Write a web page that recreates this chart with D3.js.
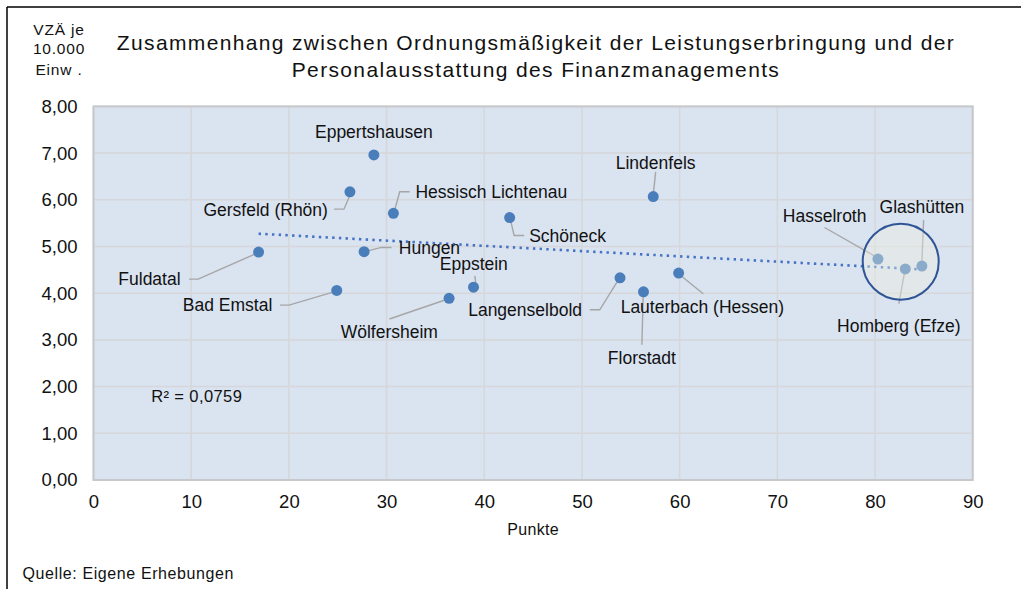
<!DOCTYPE html>
<html><head><meta charset="utf-8">
<script src="https://cdn.jsdelivr.net/npm/d3@7"></script>
<style>
html,body{margin:0;padding:0;background:#fff;}
svg{display:block;font-family:"Liberation Sans",Arial,sans-serif;}
</style></head>
<body>
<svg id="chart" width="1021" height="589"></svg>
<script>
// ---- data ----
const names = ["Eppertshausen","Gersfeld (Rhön)","Hessisch Lichtenau","Schöneck","Lindenfels","Fuldatal","Hungen","Bad Emstal","Wölfersheim","Eppstein","Langenselbold","Florstadt","Lauterbach (Hessen)","Hasselroth","Homberg (Efze)","Glashütten"];
const punkte = [28.7, 26.25, 30.7, 42.6, 57.3, 16.9, 27.7, 24.9, 36.4, 38.9, 53.9, 56.3, 59.9, 80.3, 83.1, 84.8];
const vza    = [6.96, 6.17, 5.71, 5.62, 6.07, 4.88, 4.89, 4.06, 3.89, 4.13, 4.33, 4.03, 4.43, 4.73, 4.52, 4.58];
const xTicks = [0,10,20,30,40,50,60,70,80,90];
const yTicks = [0,1,2,3,4,5,6,7,8];
const titleLines = ["Zusammenhang zwischen Ordnungsmäßigkeit der Leistungserbringung und der","Personalausstattung des Finanzmanagements"];
const yTitleLines = ["VZÄ je","10.000","Einw ."];
const xTitle = "Punkte";
const rSquaredText = "R² = 0,0759";
const sourceText = "Quelle: Eigene Erhebungen";
const highlightCenter = [82.63, 4.675];

// ---- layout (label placement relative to dot, in px) ----
const labelLayout = [
  {anchor:"middle", dx:0,     dy:-22.6, leader:[]},
  {anchor:"end",    dx:-22,   dy:18.3,  leader:[[-16,17.3],[-6,17.3],[0,3.3]]},
  {anchor:"start",  dx:22,    dy:-21.6, leader:[[16.3,-21.6],[6.3,-21.6],[1.3,-3.3]]},
  {anchor:"start",  dx:19.5,  dy:18.7,  leader:[[1,3],[4.5,18],[14.5,18]]},
  {anchor:"middle", dx:2.4,   dy:-34,   leader:[[2.4,-24.7],[0.2,-3.7]]},
  {anchor:"end",    dx:-78,   dy:27.3,  leader:[[-69.4,27],[-60.4,27],[-3.7,2]]},
  {anchor:"start",  dx:34.7,  dy:-3.4,  leader:[[3.7,-0.7],[17.4,-4.2],[27.4,-4.2]]},
  {anchor:"end",    dx:-64.4, dy:14.7,  leader:[[-56.7,14.7],[-47.7,14.7],[-3.7,1.7]]},
  {anchor:"middle", dx:-59.8, dy:33.4,  leader:[[-59.7,20.7],[-4,1.7]]},
  {anchor:"middle", dx:0.3,   dy:-23,   leader:[[1.3,-11.3],[2.3,-3.3]]},
  {anchor:"end",    dx:-38,   dy:32,    leader:[[-30.3,32],[-20.3,32],[-2.3,3]]},
  {anchor:"middle", dx:-1.6,  dy:66.3,  leader:[[-1.6,53],[-0.3,4]]},
  {anchor:"start",  dx:-58,   dy:33.4,  leader:[[24.6,20.7],[2.3,2.7]]},
  {anchor:"middle", dx:-53.3, dy:-43.3, leader:[[-53.4,-31.6],[-3.7,-3.3]]},
  {anchor:"middle", dx:-6.5,  dy:57,    leader:[[-6.4,34.6],[-0.7,3.3]]},
  {anchor:"middle", dx:0,     dy:-58.7, leader:[[1.7,-46],[0,-4]]}
];

const svg = d3.select("#chart");
const plot = {left:93.5, right:972.7, top:106.4, bottom:480};
const x = d3.scaleLinear().domain([0,90]).range([plot.left, plot.right]);
const y = d3.scaleLinear().domain([0,8]).range([plot.bottom, plot.top]);

// outer frame (top + left)
svg.append("line").attr("x1",7).attr("x2",1021).attr("y1",7).attr("y2",7).attr("stroke","#000").attr("stroke-width",1.5);
svg.append("line").attr("x1",7).attr("x2",7).attr("y1",7).attr("y2",589).attr("stroke","#000").attr("stroke-width",1.5);

// plot background
svg.append("rect").attr("x",plot.left).attr("y",plot.top)
  .attr("width",plot.right-plot.left).attr("height",plot.bottom-plot.top)
  .attr("fill","#dae3f0");

// grid
const grid = svg.append("g").attr("stroke","#d5d7da").attr("stroke-width",1.5);
grid.selectAll(".gx").data(xTicks).join("line")
  .attr("x1",d=>x(d)).attr("x2",d=>x(d)).attr("y1",plot.top).attr("y2",plot.bottom);
grid.selectAll(".gy").data(yTicks).join("line")
  .attr("x1",plot.left).attr("x2",plot.right).attr("y1",d=>y(d)).attr("y2",d=>y(d));
// plot border
svg.append("rect").attr("x",plot.left).attr("y",plot.top)
  .attr("width",plot.right-plot.left).attr("height",plot.bottom-plot.top)
  .attr("fill","none").attr("stroke","#c6c8cc").attr("stroke-width",2);

// axes (labels only)
const fmt = d3.format(".2f");
const yAxis = svg.append("g").attr("transform",`translate(${plot.left-16},0)`)
  .call(d3.axisLeft(y).tickValues(yTicks).tickSize(0).tickPadding(0).tickFormat(d=>fmt(d).replace(".",",")));
yAxis.select(".domain").remove();
yAxis.selectAll("text").attr("font-size",18.5).attr("fill","#111").attr("font-family","Liberation Sans, Arial, sans-serif");
const xAxis = svg.append("g").attr("transform",`translate(0,${plot.bottom+15})`)
  .call(d3.axisBottom(x).tickValues(xTicks).tickSize(0).tickPadding(0).tickFormat(d3.format("d")));
xAxis.select(".domain").remove();
xAxis.selectAll("text").attr("font-size",18.5).attr("fill","#111").attr("font-family","Liberation Sans, Arial, sans-serif");

// trendline (least squares)
const n = punkte.length;
const mx = d3.mean(punkte), my = d3.mean(vza);
let sxy=0, sxx=0;
for(let i=0;i<n;i++){ sxy += (punkte[i]-mx)*(vza[i]-my); sxx += (punkte[i]-mx)**2; }
const slope = sxy/sxx, icpt = my - slope*mx;
const [xmin,xmax] = d3.extent(punkte);
svg.append("line")
  .attr("x1",x(xmin)).attr("y1",y(icpt+slope*xmin))
  .attr("x2",x(xmax)).attr("y2",y(icpt+slope*xmax))
  .attr("stroke","#4472c4").attr("stroke-width",2.6).attr("stroke-dasharray","2.4 4.3");

// leader lines
const pts = names.map((nm,i)=>({name:nm, px:x(punkte[i]), py:y(vza[i]), lay:labelLayout[i]}));
svg.append("g").selectAll("polyline").data(pts.filter(p=>p.lay.leader.length)).join("polyline")
  .attr("points",p=>p.lay.leader.map(o=>[p.px+o[0],p.py+o[1]].join(",")).join(" "))
  .attr("fill","none").attr("stroke","#a6a6a6").attr("stroke-width",1.4);

// dots
svg.append("g").selectAll("circle").data(pts).join("circle")
  .attr("cx",p=>p.px).attr("cy",p=>p.py).attr("r",5.5).attr("fill","#4a7ebb");

// highlight circle
svg.append("circle").attr("cx",x(highlightCenter[0])).attr("cy",y(highlightCenter[1])).attr("r",38)
  .attr("fill","#eef0e2").attr("fill-opacity",0.4).attr("stroke","#2f5597").attr("stroke-width",2);

// labels
svg.append("g").selectAll("text").data(pts).join("text")
  .attr("x",p=>p.px+p.lay.dx).attr("y",p=>p.py+p.lay.dy+6)
  .attr("text-anchor",p=>p.lay.anchor)
  .attr("font-size",17.5).attr("fill","#111")
  .text(p=>p.name);

// R² text
svg.append("text").attr("x",x(5.9)).attr("y",y(1.68)).attr("font-size",16.5).attr("fill","#111")
  .attr("letter-spacing",0.4).text(rSquaredText);

// titles
svg.append("g").selectAll("text").data(titleLines).join("text")
  .attr("x",536).attr("y",(d,i)=>50+i*27).attr("text-anchor","middle")
  .attr("font-size",21).attr("letter-spacing",1.35).attr("fill","#111").text(d=>d);
svg.append("g").selectAll("text").data(yTitleLines).join("text")
  .attr("x",59).attr("y",(d,i)=>[35,53.5,74.5][i]).attr("text-anchor","middle")
  .attr("font-size",15.5).attr("letter-spacing",0.8).attr("fill","#111").text(d=>d);
svg.append("text").attr("x",(plot.left+plot.right)/2).attr("y",535).attr("text-anchor","middle")
  .attr("font-size",16).attr("letter-spacing",0.3).attr("fill","#111").text(xTitle);
svg.append("text").attr("x",22.5).attr("y",579).attr("font-size",16).attr("letter-spacing",0.6)
  .attr("fill","#111").text(sourceText);
</script>
</body></html>
